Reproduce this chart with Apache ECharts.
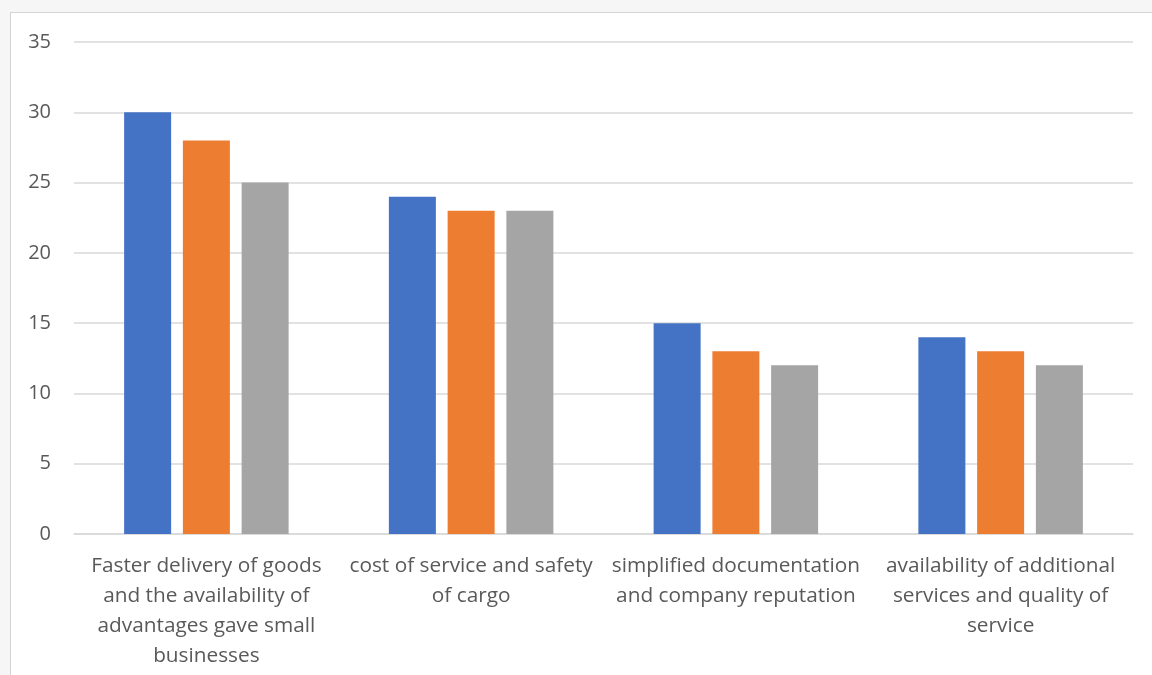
<!DOCTYPE html>
<html>
<head>
<meta charset="utf-8">
<script src="https://cdn.jsdelivr.net/npm/echarts@6/dist/echarts.min.js"></script>
<style>
html, body { margin: 0; padding: 0; background: #f6f6f6; }
.frame {
  position: absolute; left: 10px; top: 12px; width: 1160px; height: 700px;
  background: #fff; border: 1px solid #d4d4d4;
}
#draw { position: absolute; left: 0; top: 0; width: 1152px; height: 675px; }
</style>
</head>
<body>
<div class="frame"></div>
<div id="draw"></div>
<script>
var categories = [
  "Faster delivery of goods\nand the availability of\nadvantages gave small\nbusinesses",
  "cost of service and safety\nof cargo",
  "simplified documentation\nand company reputation",
  "availability of additional\nservices and quality of\nservice"
];
var series1 = [30, 24, 15, 14];
var series2 = [28, 23, 13, 13];
var series3 = [25, 23, 12, 12];
var yTicks = [0, 35, 5];

var chart = echarts.init(document.getElementById("draw"));
var font = "'Open Sans', 'Noto Sans', sans-serif";

function bar(data, color) {
  return {
    type: "bar",
    data: data,
    barWidth: 47,
    barGap: "25%",
    itemStyle: { color: color },
    silent: true
  };
}

var option = {
  animation: false,
  backgroundColor: "transparent",
  grid: { left: 74, right: 19, top: 42, bottom: 141 },
  xAxis: {
    type: "category",
    data: categories,
    axisLine: { show: true, lineStyle: { color: "#d9d9d9", width: 1.5 } },
    axisTick: { show: false },
    axisLabel: {
      color: "#595959",
      fontFamily: font,
      fontSize: 20.8,
      lineHeight: 30,
      margin: 17,
      interval: 0
    }
  },
  yAxis: {
    type: "value",
    min: yTicks[0],
    max: yTicks[1],
    interval: yTicks[2],
    axisLine: { show: false },
    axisTick: { show: false },
    splitLine: { lineStyle: { color: "#d9d9d9", width: 1.5 } },
    axisLabel: {
      color: "#595959",
      fontFamily: font,
      fontSize: 20,
      margin: 23
    }
  },
  series: [
    bar(series1, "#4472c4"),
    bar(series2, "#ed7d31"),
    bar(series3, "#a5a5a5")
  ]
};
chart.setOption(option);
</script>
</body>
</html>
